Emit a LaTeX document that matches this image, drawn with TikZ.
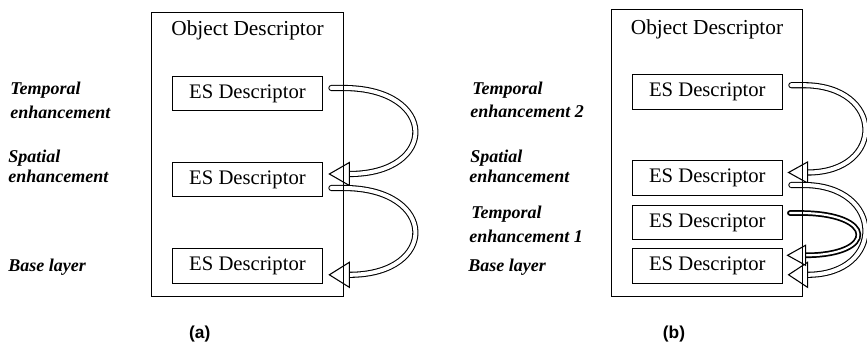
\documentclass[tikz,border=0pt]{standalone}
\usepackage{fontspec}
\setmainfont{Liberation Serif}
\newfontfamily\capfont{Liberation Sans}
\usetikzlibrary{calc}
\begin{document}
\begin{tikzpicture}[x=0.75pt,y=-0.75pt,
  esbox/.style={draw, line width=0.8pt, minimum width=113pt, minimum height=26pt,
    inner sep=0pt, font=\fontsize{15.5}{18}\selectfont},
  odbox/.style={draw, line width=0.8pt, inner sep=0pt},
  odtitle/.style={anchor=base, inner sep=0pt, font=\fontsize{16}{18}\selectfont},
  layer/.style={anchor=base west, inner sep=0pt, font=\fontsize{13.5}{16}\selectfont\bfseries\itshape},
  caption/.style={anchor=base, inner sep=0pt, font=\capfont\bfseries\fontsize{13}{16}\selectfont},
  band/.style={line width=0.8pt, double=white, double distance=3pt, line cap=round},
  darkband/.style={line width=1.3pt, double=white, double distance=1.6pt, line cap=round},
  head/.style={draw, line width=0.8pt, fill=white, line join=miter},
]
\useasboundingbox (0,0) rectangle (867,349);

% ---------------- (a) ----------------
\node[esbox] (a1) at (247.5,93.5)  {ES Descriptor};
\node[esbox] (a2) at (247.5,179.5) {ES Descriptor};
\node[esbox] (a3) at (247.5,265.8) {ES Descriptor};
\node[odtitle] (tA) at (247.5,36) {Object Descriptor};

\node[layer] (la1) at (10,95)  {Temporal};
\node[layer] (la2) at (10,119) {enhancement};
\node[layer] (la3) at (8,162)  {Spatial};
\node[layer] (la4) at (8,183)  {enhancement};
\node[layer] (la5) at (8,271)  {Base layer};

% temporal -> spatial
\coordinate (ta1) at ($(a1.east)+(8,-5.5)$);
\coordinate (ba1) at ($(a2.east)+(26,-5.5)$);
\coordinate (pa1) at ($(a2.east)+(6,-5.5)$);
\draw[band] (ta1) -- ($(ta1)+(12,0)$) .. controls ($(ta1)+(107,0)$) and ($(ba1)+(89,0)$) .. (ba1);
\draw[head] ($(ba1)+(0,-11.5)$) -- (pa1) -- ($(ba1)+(0,11.5)$) -- cycle;

% spatial -> base
\coordinate (ta2) at ($(a2.east)+(8,8.5)$);
\coordinate (ba2) at ($(a3.east)+(26,9)$);
\coordinate (pa2) at ($(a3.east)+(6,9)$);
\draw[band] (ta2) -- ($(ta2)+(12,0)$) .. controls ($(ta2)+(107,0)$) and ($(ba2)+(89,0)$) .. (ba2);
\draw[head] ($(ba2)+(0,-12.5)$) -- (pa2) -- ($(ba2)+(0,12.5)$) -- cycle;

\node[odbox, minimum width=144pt, minimum height=213pt] (odA) at (247.5,154.5) {};
\node[caption] (capA) at (199.7,338.5) {(a)};

% ---------------- (b) ----------------
\node[esbox, minimum width=112.5pt] (b1) at (707.3,92.2)  {ES Descriptor};
\node[esbox, minimum width=112.5pt] (b2) at (707.3,178)   {ES Descriptor};
\node[esbox, minimum width=112.5pt] (b3) at (707.3,222.5) {ES Descriptor};
\node[esbox, minimum width=112.5pt] (b4) at (707.3,265.8) {ES Descriptor};
\node[odtitle] (tB) at (707,34.3) {Object Descriptor};

\node[layer] (lb1) at (472,95)  {Temporal};
\node[layer] (lb2) at (470,118) {enhancement 2};
\node[layer] (lb3) at (470,162) {Spatial};
\node[layer] (lb4) at (469,183) {enhancement};
\node[layer] (lb5) at (471,218) {Temporal};
\node[layer] (lb6) at (469,242) {enhancement 1};
\node[layer] (lb7) at (468,271) {Base layer};

% temporal 2 -> spatial
\coordinate (tb1) at ($(b1.east)+(8.5,-7)$);
\coordinate (bb1) at ($(b2.east)+(24.7,-5.5)$);
\coordinate (pb1) at ($(b2.east)+(5.7,-5.5)$);
\draw[band] (tb1) -- ($(tb1)+(12,0)$) .. controls ($(tb1)+(94,0)$) and ($(bb1)+(78,0)$) .. (bb1);
\draw[head] ($(bb1)+(0,-10.5)$) -- (pb1) -- ($(bb1)+(0,10.5)$) -- cycle;

% spatial -> base
\coordinate (tb2) at ($(b2.east)+(8.5,7)$);
\coordinate (bb2) at ($(b4.east)+(24.7,9)$);
\coordinate (pb2) at ($(b4.east)+(5.7,9)$);
\draw[band] (tb2) -- ($(tb2)+(12,0)$) .. controls ($(tb2)+(94,0)$) and ($(bb2)+(78,0)$) .. (bb2);
\draw[head] ($(bb2)+(0,-12.5)$) -- (pb2) -- ($(bb2)+(0,12.5)$) -- cycle;

% temporal 1 -> base
\coordinate (tb3) at ($(b3.east)+(7,-9.5)$);
\coordinate (bb3) at ($(b4.east)+(22.7,-10.5)$);
\coordinate (pb3) at ($(b4.east)+(4.7,-10.5)$);
\draw[darkband] (tb3) -- ($(tb3)+(10,0)$) .. controls ($(tb3)+(87,0)$) and ($(bb3)+(71.5,0)$) .. (bb3);
\draw[head] ($(bb3)+(0,-10)$) -- (pb3) -- ($(bb3)+(0,10)$) -- cycle;

\node[odbox, minimum width=143.25pt, minimum height=215.25pt] (odB) at (707,153) {};
\node[caption] (capB) at (674,338.5) {(b)};
\end{tikzpicture}
\end{document}
